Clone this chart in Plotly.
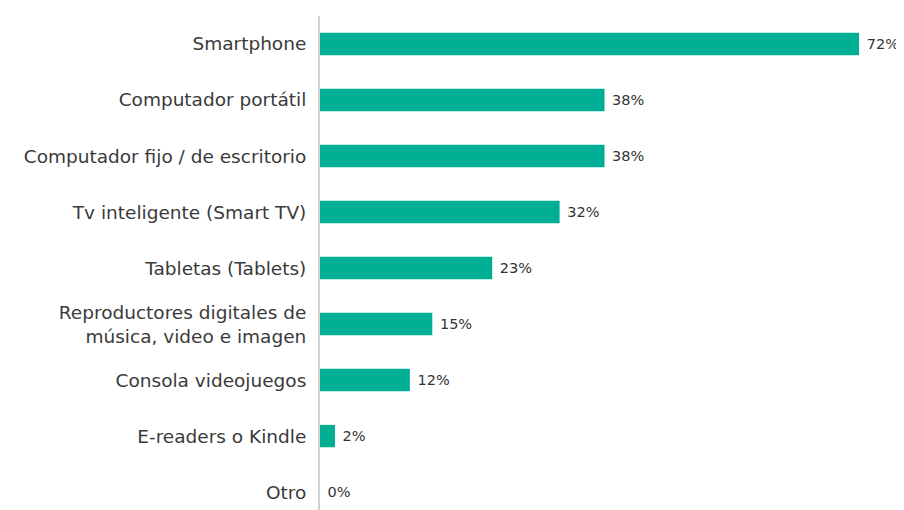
import plotly.graph_objects as go

categories = [
    "Smartphone",
    "Computador portátil",
    "Computador fijo / de escritorio",
    "Tv inteligente (Smart TV)",
    "Tabletas (Tablets)",
    "Reproductores digitales de<br>música, video e imagen",
    "Consola videojuegos",
    "E-readers o Kindle",
    "Otro",
]
values = [72, 38, 38, 32, 23, 15, 12, 2, 0]
value_labels = [f"{v}%" for v in values]
positions = list(range(len(categories)))

fig = go.Figure(
    go.Bar(
        x=values,
        y=positions,
        orientation="h",
        marker=dict(color="#00AE94", line=dict(width=0)),
        width=0.4,
        text=value_labels,
        texttemplate=" %{text}",
        textposition="outside",
        cliponaxis=False,
        textfont=dict(family="DejaVu Sans", size=14.5, color="#333333"),
    )
)

fig.update_layout(
    width=896,
    height=502,
    margin=dict(l=312, r=0, t=8, b=0),
    plot_bgcolor="white",
    paper_bgcolor="white",
    showlegend=False,
    xaxis=dict(range=[0, 78], visible=False),
    yaxis=dict(
        range=[8.32, -0.5],
        tickvals=positions,
        ticktext=categories,
        showline=True,
        linecolor="#D0D0D0",
        linewidth=2,
        showgrid=False,
        zeroline=False,
        ticks="",
        ticklabelstandoff=8,
        tickfont=dict(family="DejaVu Sans", size=18.5, color="#3a3a3a"),
    ),
)

fig.write_html("out.html")
